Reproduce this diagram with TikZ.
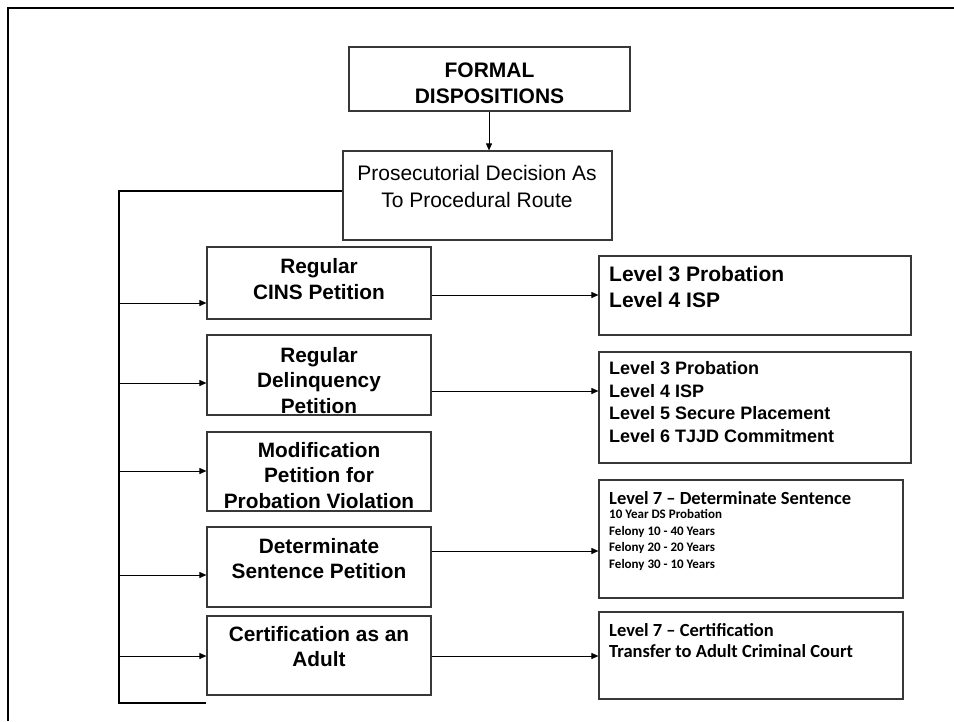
\documentclass[tikz,border=0pt]{standalone}
\usepackage{fontspec}
\setmainfont{Liberation Sans}
\newfontfamily\calibfont{Carlito}
\usetikzlibrary{arrows.meta}

\begin{document}
\begin{tikzpicture}[x=1pt,y=-1pt,
  box/.style={draw=black!78, line width=1.2pt, inner sep=0pt},
  bus/.style={line width=2.4pt, line join=miter},
  arr/.style={line width=0.9pt, -{Triangle[length=7pt,width=6pt]}},
  % multi-line texts are placed by the baseline of their last line
  headtext/.style={anchor=base, align=center, inner sep=0pt,
    font=\bfseries\fontsize{21}{26}\selectfont},
  routetext/.style={anchor=base, align=center, inner sep=0pt,
    font=\fontsize{21}{27.5}\selectfont},
  petitiontext/.style={anchor=base, align=center, inner sep=0pt,
    font=\bfseries\fontsize{20.8}{25.5}\selectfont},
  leveltext/.style={anchor=base west, align=left, inner sep=0pt},
]
\useasboundingbox (0,0) rectangle (954,721);
\fill[white] (0,0) rectangle (954,721);

% page frame
\draw[line width=2.2pt] (8.3,721) -- (8.3,8.3) -- (954,8.3);

% top of the chart
\node[box, minimum width=281pt, minimum height=64pt] (fd) at (489.5,79) {};
\node[headtext] (fdt) at (489.5,103) {FORMAL\\DISPOSITIONS};

\node[box, minimum width=269pt, minimum height=89pt] (pr) at (477.5,195.5) {};
\node[routetext] (prt) at (477,207.5) {Prosecutorial Decision As\\To Procedural Route};

\draw[arr] (fd.south -| 489,0) -- (pr.north -| 489,0);

% procedural routes
\node[box, minimum width=224pt, minimum height=72pt] (cins) at (319,283) {};
\node[petitiontext] (cinst) at (319,299) {Regular\\CINS Petition};

\node[box, minimum width=224pt, minimum height=80pt] (del) at (319,375) {};
\node[petitiontext] (delt) at (319,413) {Regular\\Delinquency\\Petition};

\node[box, minimum width=224pt, minimum height=79pt] (mod) at (319,471.5) {};
\node[petitiontext] (modt) at (319,508) {Modification\\Petition for\\Probation Violation};

\node[box, minimum width=224pt, minimum height=80pt] (det) at (319,567) {};
\node[petitiontext] (dett) at (319,578.5) {Determinate\\Sentence Petition};

\node[box, minimum width=224pt, minimum height=79pt] (cert) at (319,655.5) {};
\node[petitiontext] (certt) at (319,666.5) {Certification as an\\Adult};

% outcomes
\node[box, minimum width=312pt, minimum height=79pt] (r1) at (755,295.5) {};
\node[leveltext, font=\bfseries\fontsize{21}{26.5}\selectfont] (r1t) at (609,307.5)
  {Level 3 Probation\\Level 4 ISP};

\node[box, minimum width=312pt, minimum height=111pt] (r2) at (755,407.5) {};
\node[leveltext, font=\bfseries\fontsize{18}{22.5}\selectfont] (r2t) at (609,442)
  {Level 3 Probation\\Level 4 ISP\\Level 5 Secure Placement\\Level 6 TJJD Commitment};

\node[box, minimum width=304pt, minimum height=118pt] (r3) at (751,539) {};
\node[leveltext, font=\calibfont\bfseries\fontsize{18.5}{22}\selectfont] (r3h) at (609,504)
  {Level 7 – Determinate Sentence};
\node[leveltext, font=\calibfont\bfseries\fontsize{13}{16.5}\selectfont] (r3t) at (609,568)
  {10 Year DS Probation\\Felony 10 - 40 Years\\Felony 20 - 20 Years\\Felony 30 - 10 Years};

\node[box, minimum width=304pt, minimum height=87pt] (r4) at (751,655.5) {};
\node[leveltext, font=\calibfont\bfseries\fontsize{18.5}{21.5}\selectfont] (r4t) at (609,657.5)
  {Level 7 – Certification\\Transfer to Adult Criminal Court};

% distribution bus on the left
\coordinate (busTop) at (119,191);
\coordinate (busBot) at (119,703);
\draw[bus] (pr.west |- busTop) -- (busTop) -- (busBot) -- (busBot -| cins.west);

\coordinate (b1) at (119,303);
\coordinate (b2) at (119,383);
\coordinate (b3) at (119,471);
\coordinate (b4) at (119,575);
\coordinate (b5) at (119,656);
\draw[arr] (b1) -- (b1 -| cins.west);
\draw[arr] (b2) -- (b2 -| del.west);
\draw[arr] (b3) -- (b3 -| mod.west);
\draw[arr] (b4) -- (b4 -| det.west);
\draw[arr] (b5) -- (b5 -| cert.west);

% routes to outcomes
\coordinate (o1) at (0,295);
\coordinate (o2) at (0,391);
\coordinate (o3) at (0,551);
\coordinate (o4) at (0,656);
\draw[arr] (cins.east |- o1) -- (r1.west |- o1);
\draw[arr] (del.east |- o2) -- (r2.west |- o2);
\draw[arr] (det.east |- o3) -- (r3.west |- o3);
\draw[arr] (cert.east |- o4) -- (r4.west |- o4);
\end{tikzpicture}
\end{document}
